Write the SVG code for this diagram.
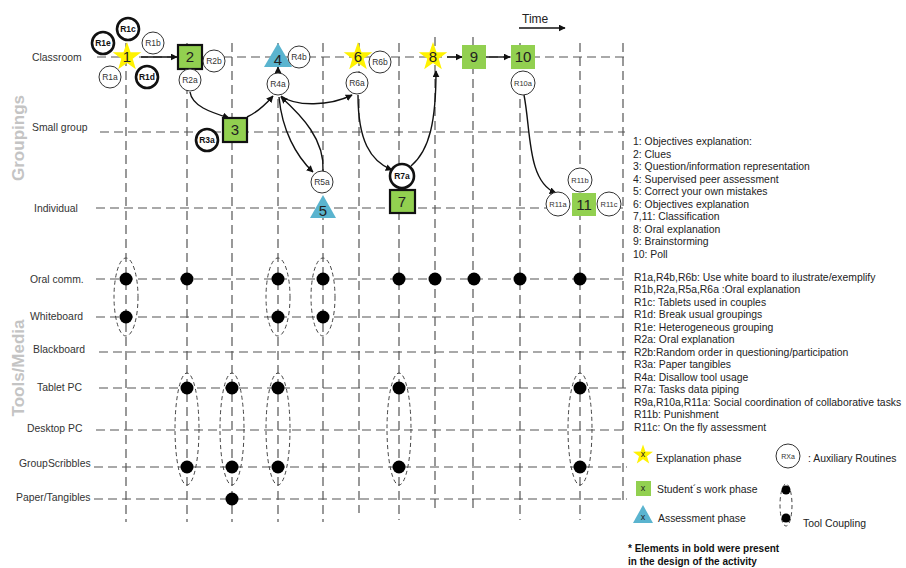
<svg xmlns="http://www.w3.org/2000/svg" xmlns:xlink="http://www.w3.org/1999/xlink" width="906" height="568" viewBox="0 0 906 568">
  <style>
    .grid { stroke: #555; stroke-width: 1.2; stroke-dasharray: 9 5; fill: none; }
    .row { font-family: "Liberation Sans", Arial, sans-serif; font-size: 10.4px; fill: #333; }
    .axis { font-family: "Liberation Sans", Arial, sans-serif; font-size: 17px; font-weight: bold; fill: #c4c4c4; }
    .legend { font-family: "Liberation Sans", Arial, sans-serif; font-size: 10.4px; fill: #222; }
    .note { font-family: "Liberation Sans", Arial, sans-serif; font-size: 10px; font-weight: bold; fill: #111; }
    .num { font-family: "Liberation Sans", Arial, sans-serif; font-size: 15px; fill: #222; text-anchor: middle; }
    .rt { fill: #fff; stroke: #333; stroke-width: 1; }
    .rtb { fill: #fff; stroke: #111; stroke-width: 2.6; }
    .rlab { font-family: "Liberation Sans", Arial, sans-serif; font-size: 8.5px; fill: #333; text-anchor: middle; }
    .rlabb { font-family: "Liberation Sans", Arial, sans-serif; font-size: 8.5px; font-weight: bold; fill: #111; text-anchor: middle; }
    .expl { fill: #fff200; }
    .work { fill: #92d050; }
    .workb { fill: #92d050; stroke: #111; stroke-width: 2.2; }
    .assess { fill: #5ab4cf; }
    .flow { fill: none; stroke: #111; stroke-width: 1.4; marker-end: url(#arr); }
    .dot { fill: #000; }
    .couple { fill: none; stroke: #444; stroke-width: 1; stroke-dasharray: 4 3; }
  </style>
  <defs>
    <marker id="arr" viewBox="0 0 10 10" refX="9" refY="5" markerWidth="7" markerHeight="7" markerUnits="userSpaceOnUse" orient="auto">
      <path d="M0,0 L10,5 L0,10 z" fill="#111"/>
    </marker>
    <polygon id="star" points="0,-15 3.53,-4.85 14.27,-4.64 5.71,1.85 8.82,12.14 0,6 -8.82,12.14 -5.71,1.85 -14.27,-4.64 -3.53,-4.85"/>
  </defs>

  <rect width="906" height="568" fill="#fff"/>

  <!-- axis titles -->
  <text class="axis" transform="translate(24,138) rotate(-90)" text-anchor="middle">Groupings</text>
  <text class="axis" transform="translate(24,368) rotate(-90)" text-anchor="middle">Tools/Media</text>

  <!-- row labels -->
  <g id="row-labels">
    <text class="row" x="32" y="61">Classroom</text>
    <text class="row" x="32" y="131">Small group</text>
    <text class="row" x="34" y="212">Individual</text>
    <text class="row" x="30" y="283">Oral comm.</text>
    <text class="row" x="30" y="320">Whiteboard</text>
    <text class="row" x="33" y="353">Blackboard</text>
    <text class="row" x="37" y="391">Tablet PC</text>
    <text class="row" x="27" y="432">Desktop PC</text>
    <text class="row" x="19" y="467">GroupScribbles</text>
    <text class="row" x="16" y="501">Paper/Tangibles</text>
  </g>

  <!-- grid -->
  <g id="grid">
    <line class="grid" x1="97" y1="57" x2="625" y2="57"/>
    <line class="grid" x1="100" y1="132" x2="625" y2="132"/>
    <line class="grid" x1="96" y1="208" x2="625" y2="208"/>
    <line class="grid" x1="96" y1="279" x2="627" y2="279"/>
    <line class="grid" x1="96" y1="317" x2="627" y2="317"/>
    <line class="grid" x1="99" y1="352" x2="627" y2="352"/>
    <line class="grid" x1="99" y1="388" x2="627" y2="388"/>
    <line class="grid" x1="96" y1="430" x2="627" y2="430"/>
    <line class="grid" x1="94" y1="467" x2="627" y2="467"/>
    <line class="grid" x1="94" y1="499" x2="627" y2="499"/>

    <line class="grid" x1="126" y1="43" x2="126" y2="522"/>
    <line class="grid" x1="187" y1="43" x2="187" y2="522"/>
    <line class="grid" x1="232" y1="43" x2="232" y2="522"/>
    <line class="grid" x1="278" y1="43" x2="278" y2="522"/>
    <line class="grid" x1="323" y1="43" x2="323" y2="522"/>
    <line class="grid" x1="359" y1="43" x2="359" y2="513"/>
    <line class="grid" x1="399" y1="43" x2="399" y2="520"/>
    <line class="grid" x1="435" y1="37" x2="435" y2="511"/>
    <line class="grid" x1="473" y1="37" x2="473" y2="511"/>
    <line class="grid" x1="520" y1="43" x2="520" y2="520"/>
    <line class="grid" x1="580" y1="43" x2="580" y2="520"/>
    <line class="grid" x1="623" y1="43" x2="623" y2="505"/>
  </g>

  <!-- time axis -->
  <g id="time">
    <text class="legend" x="522" y="23" style="font-size:12px">Time</text>
    <line x1="519" y1="28" x2="565" y2="28" stroke="#111" stroke-width="1.3" marker-end="url(#arr)"/>
  </g>

  <!-- connectors -->
  <g id="connectors">
    <path class="flow" d="M141,57 L177,57"/>
    <path class="flow" d="M190,92 C192,106 210,112 229,118"/>
    <path class="flow" d="M247,117 C258,112 266,104 273,96"/>
    <path class="flow" d="M278,73 L278,67"/>
    <path class="flow" d="M281,96 C296,107 330,106 352,95"/>
    <path class="flow" d="M279,97 C282,130 296,156 313,172"/>
    <path class="flow" d="M323,171 C325,140 302,116 281,97"/>
    <path class="flow" d="M358,95 C358,140 370,161 392,170"/>
    <path class="flow" d="M411,166 C430,150 436,120 436,71"/>
    <path class="flow" d="M447,57 L462,57"/>
    <path class="flow" d="M486,57 L510,57"/>
    <path class="flow" d="M524,95 C531,130 527,182 556,193"/>
  </g>

  <!-- activity 1 with routines -->
  <g id="n1">
    <use xlink:href="#star" class="expl" transform="translate(127,57)"/>
    <text class="num" x="127" y="62">1</text>
  </g>
  <g id="r1c"><circle class="rtb" cx="128" cy="29" r="11"/><text class="rlabb" x="128" y="32">R1c</text></g>
  <g id="r1e"><circle class="rtb" cx="103" cy="43" r="11"/><text class="rlabb" x="103" y="46">R1e</text></g>
  <g id="r1b"><circle class="rt" cx="153" cy="43" r="11"/><text class="rlab" x="153" y="46">R1b</text></g>
  <g id="r1a"><circle class="rt" cx="110" cy="77" r="11"/><text class="rlab" x="110" y="80">R1a</text></g>
  <g id="r1d"><circle class="rtb" cx="147" cy="77" r="11"/><text class="rlabb" x="147" y="80">R1d</text></g>

  <!-- activity 2 -->
  <g id="n2">
    <rect class="workb" x="178" y="45" width="24" height="24"/>
    <text class="num" x="190" y="62">2</text>
  </g>
  <g id="r2b"><circle class="rt" cx="214" cy="61" r="11"/><text class="rlab" x="214" y="64">R2b</text></g>
  <g id="r2a"><circle class="rt" cx="190" cy="80" r="11"/><text class="rlab" x="190" y="83">R2a</text></g>

  <!-- activity 3 -->
  <g id="n3">
    <rect class="workb" x="223" y="118" width="24" height="24"/>
    <text class="num" x="235" y="135">3</text>
  </g>
  <g id="r3a"><circle class="rtb" cx="207" cy="140" r="11"/><text class="rlabb" x="207" y="143">R3a</text></g>

  <!-- activity 4 -->
  <g id="n4">
    <polygon class="assess" points="278,43 292,67 264,67"/>
    <text class="num" x="278" y="65">4</text>
  </g>
  <g id="r4b"><circle class="rt" cx="299" cy="57" r="11"/><text class="rlab" x="299" y="60">R4b</text></g>
  <g id="r4a"><circle class="rt" cx="278" cy="84" r="11"/><text class="rlab" x="278" y="87">R4a</text></g>

  <!-- activity 5 -->
  <g id="r5a"><circle class="rt" cx="322" cy="182" r="11"/><text class="rlab" x="322" y="185">R5a</text></g>
  <g id="n5">
    <polygon class="assess" points="323,195 336,218 310,218"/>
    <text class="num" x="323" y="216">5</text>
  </g>

  <!-- activity 6 -->
  <g id="n6">
    <use xlink:href="#star" class="expl" transform="translate(358,57)"/>
    <text class="num" x="358" y="62">6</text>
  </g>
  <g id="r6b"><circle class="rt" cx="380" cy="62" r="11"/><text class="rlab" x="380" y="65">R6b</text></g>
  <g id="r6a"><circle class="rt" cx="357" cy="83" r="11"/><text class="rlab" x="357" y="86">R6a</text></g>

  <!-- activity 7 -->
  <g id="r7a"><circle class="rtb" cx="402" cy="176" r="12"/><text class="rlabb" x="402" y="179">R7a</text></g>
  <g id="n7">
    <rect class="workb" x="390" y="190" width="25" height="23"/>
    <text class="num" x="402" y="207">7</text>
  </g>

  <!-- activity 8 -->
  <g id="n8">
    <use xlink:href="#star" class="expl" transform="translate(433,57)"/>
    <text class="num" x="433" y="62">8</text>
  </g>

  <!-- activity 9 -->
  <g id="n9">
    <rect class="work" x="462" y="45" width="24" height="24"/>
    <text class="num" x="474" y="62">9</text>
  </g>

  <!-- activity 10 -->
  <g id="n10">
    <rect class="work" x="511" y="45" width="24" height="24"/>
    <text class="num" x="523" y="62">10</text>
  </g>
  <g id="r10a"><circle class="rt" cx="523" cy="83" r="12"/><text class="rlab" x="523" y="86" style="font-size:7.5px">R10a</text></g>

  <!-- activity 11 -->
  <g id="n11">
    <rect class="work" x="572" y="193" width="24" height="23"/>
    <text class="num" x="584" y="210">11</text>
  </g>
  <g id="r11a"><circle class="rt" cx="558" cy="204" r="12"/><text class="rlab" x="558" y="207" style="font-size:7.5px">R11a</text></g>
  <g id="r11b"><circle class="rt" cx="580" cy="180" r="12"/><text class="rlab" x="580" y="183" style="font-size:7.5px">R11b</text></g>
  <g id="r11c"><circle class="rt" cx="609" cy="204" r="12"/><text class="rlab" x="609" y="207" style="font-size:7.5px">R11c</text></g>

  <!-- tool couplings -->
  <g id="couplings">
    <ellipse class="couple" cx="126" cy="297" rx="12" ry="39"/>
    <ellipse class="couple" cx="278" cy="297" rx="12" ry="39"/>
    <ellipse class="couple" cx="323" cy="297" rx="12" ry="39"/>
    <ellipse class="couple" cx="187" cy="429" rx="12" ry="56"/>
    <ellipse class="couple" cx="232" cy="429" rx="12" ry="56"/>
    <ellipse class="couple" cx="278" cy="429" rx="12" ry="56"/>
    <ellipse class="couple" cx="399" cy="429" rx="12" ry="56"/>
    <ellipse class="couple" cx="580" cy="429" rx="12" ry="56"/>
  </g>

  <!-- tool usage -->
  <g id="tools">
    <circle class="dot" cx="126" cy="279" r="6.5"/>
    <circle class="dot" cx="187" cy="279" r="6.5"/>
    <circle class="dot" cx="278" cy="279" r="6.5"/>
    <circle class="dot" cx="323" cy="279" r="6.5"/>
    <circle class="dot" cx="399" cy="279" r="6.5"/>
    <circle class="dot" cx="435" cy="279" r="6.5"/>
    <circle class="dot" cx="474" cy="279" r="6.5"/>
    <circle class="dot" cx="520" cy="279" r="6.5"/>
    <circle class="dot" cx="580" cy="279" r="6.5"/>

    <circle class="dot" cx="126" cy="317" r="6.5"/>
    <circle class="dot" cx="278" cy="317" r="6.5"/>
    <circle class="dot" cx="323" cy="317" r="6.5"/>

    <circle class="dot" cx="187" cy="388" r="6.5"/>
    <circle class="dot" cx="232" cy="388" r="6.5"/>
    <circle class="dot" cx="278" cy="388" r="6.5"/>
    <circle class="dot" cx="399" cy="388" r="6.5"/>
    <circle class="dot" cx="580" cy="388" r="6.5"/>

    <circle class="dot" cx="187" cy="467" r="6.5"/>
    <circle class="dot" cx="232" cy="467" r="6.5"/>
    <circle class="dot" cx="278" cy="467" r="6.5"/>
    <circle class="dot" cx="399" cy="467" r="6.5"/>
    <circle class="dot" cx="580" cy="467" r="6.5"/>

    <circle class="dot" cx="232" cy="499" r="6.5"/>
  </g>

  <!-- activity key -->
  <g id="activity-key" class="legend">
    <text x="633" y="145">1: Objectives explanation:</text>
    <text x="633" y="158">2: Clues</text>
    <text x="633" y="170">3: Question/information representation</text>
    <text x="633" y="183">4: Supervised peer assessment</text>
    <text x="633" y="195">5: Correct your own mistakes</text>
    <text x="633" y="208">6: Objectives explanation</text>
    <text x="633" y="220">7,11: Classification</text>
    <text x="633" y="233">8: Oral explanation</text>
    <text x="633" y="245">9: Brainstorming</text>
    <text x="633" y="258">10: Poll</text>
  </g>

  <!-- routine key -->
  <g id="routine-key" class="legend">
    <text x="634" y="281">R1a,R4b,R6b: Use white board to ilustrate/exemplify</text>
    <text x="634" y="293">R1b,R2a,R5a,R6a :Oral explanation</text>
    <text x="634" y="306">R1c: Tablets used in couples</text>
    <text x="634" y="318">R1d: Break usual groupings</text>
    <text x="634" y="331">R1e: Heterogeneous grouping</text>
    <text x="634" y="343">R2a: Oral explanation</text>
    <text x="634" y="356">R2b:Random order in questioning/participation</text>
    <text x="634" y="368">R3a: Paper tangibles</text>
    <text x="634" y="381">R4a: Disallow tool usage</text>
    <text x="634" y="393">R7a: Tasks data piping</text>
    <text x="634" y="406">R9a,R10a,R11a: Social coordination of collaborative tasks</text>
    <text x="634" y="418">R11b: Punishment</text>
    <text x="634" y="431">R11c: On the fly assessment</text>
  </g>

  <!-- symbol key -->
  <g id="symbol-key">
    <use xlink:href="#star" class="expl" transform="translate(643,455) scale(0.7)"/>
    <text class="legend" x="643" y="457" text-anchor="middle" style="font-size:9px">x</text>
    <text class="legend" x="656" y="462">Explanation phase</text>

    <rect class="work" x="636" y="481" width="15" height="15"/>
    <text class="legend" x="643" y="491" text-anchor="middle" style="font-size:9px">x</text>
    <text class="legend" x="657" y="493">Student´s work phase</text>

    <polygon class="assess" points="643,505 653,523 633,523"/>
    <text class="legend" x="643" y="520" text-anchor="middle" style="font-size:9px">x</text>
    <text class="legend" x="658" y="522">Assessment phase</text>

    <circle class="rt" cx="788" cy="456" r="12"/>
    <text class="rlab" x="788" y="459" style="font-size:7px">RXa</text>
    <text class="legend" x="808" y="462">: Auxiliary Routines</text>

    <ellipse class="couple" cx="786" cy="505" rx="6" ry="21"/>
    <circle class="dot" cx="786" cy="490" r="4.5"/>
    <circle class="dot" cx="786" cy="518" r="4.5"/>
    <text class="legend" x="803" y="527">Tool Coupling</text>

    <text class="note" x="628" y="552">* Elements in bold were present</text>
    <text class="note" x="628" y="565">in the design of the activity</text>
  </g>
</svg>
